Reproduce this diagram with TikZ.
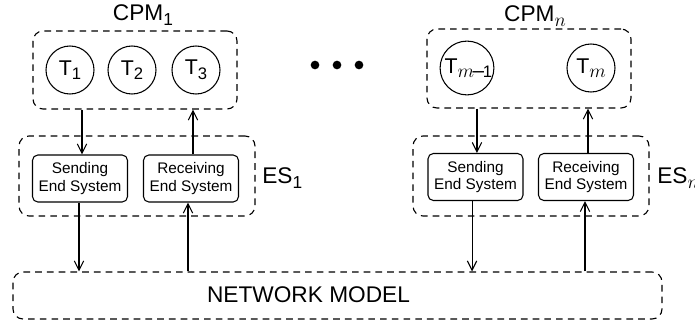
\documentclass[tikz,border=0pt]{standalone}
\usepackage{fontspec}
\setmainfont{Liberation Sans}
\usetikzlibrary{arrows.meta,calc}
\newcommand{\bigsub}[1]{\raisebox{-4pt}{\fontsize{13}{13}\selectfont #1}}
\newcommand{\tsub}[1]{\raisebox{-3.5pt}{\fontsize{12.5}{12.5}\selectfont #1}}
\newcommand{\msub}[1]{\raisebox{-3.5pt}{\fontsize{15.5}{15.5}\selectfont #1}}
\begin{document}
\begin{tikzpicture}[x=0.75pt,y=-0.75pt,
  dashbox/.style={draw,line width=0.85pt,dash pattern=on 5pt off 3.8pt,rounded corners=7.5pt,minimum height=35.25pt,inner sep=0pt},
  esbox/.style={draw,line width=0.8pt,rounded corners=4pt,minimum width=71.25pt,minimum height=35.25pt,inner sep=0pt,align=center,font=\fontsize{11.5}{13}\selectfont},
  task/.style={draw,circle,line width=0.8pt,inner sep=0pt,minimum size=36pt,font=\fontsize{16}{18}\selectfont},
  biglabel/.style={font=\fontsize{17}{20}\selectfont,inner sep=0pt},
  arr/.style={line width=0.8pt,-{Straight Barb[length=7pt,width=7pt]}},
  dot/.style={fill,circle,inner sep=0pt,minimum size=6.5pt}]
\useasboundingbox (0,0) rectangle (695,321);
% CPM boxes
\node[dashbox,minimum width=153pt,minimum height=58.5pt] (cpm1) at (135,70) {};
\node[dashbox,minimum width=153pt,minimum height=59.25pt] (cpmn) at (529,68.5) {};
\node[biglabel] (cpm1l) at (143,15) {CPM\bigsub{1}};
\node[biglabel] (cpmnl) at (535,16) {CPM\msub{$n$}};
% tasks
\node[task] (t1) at (70,70) {T\tsub{1}};
\node[task] (t2) at (132,70) {T\tsub{2}};
\node[task] (t3) at (196,70) {T\tsub{3}};
\node[task,minimum size=39.75pt] (tm1) at (467,68) {\hspace{2pt}T\msub{$m$\kern-1pt--\kern-1pt\fontsize{12.5}{12.5}\selectfont 1}};
\node[task] (tm) at (591,68) {T\msub{$m$}};
% dots
\node[dot] (d1) at (315,65) {};
\node[dot] (d2) at (337,65) {};
\node[dot] (d3) at (359,65) {};
% ES boxes
\node[dashbox,minimum width=177pt,minimum height=60pt] (es1) at (137,176) {};
\node[dashbox,minimum width=177pt,minimum height=60pt] (esn) at (531,176) {};
\node[biglabel,anchor=west] (es1l) at (262,178) {ES\bigsub{1}};
\node[biglabel,anchor=west] (esnl) at (657,178) {ES\msub{$n$}};
\node[esbox] (s1) at (80,178.5) {Sending\\End System};
\node[esbox] (r1) at (191,178.5) {Receiving\\End System};
\node[esbox] (sn) at (475.5,177) {Sending\\End System};
\node[esbox] (rn) at (586,177) {Receiving\\End System};
% network
\node[dashbox,minimum width=486.75pt] (net) at (337.5,295.5) {};
\node[biglabel] (netl) at (308.5,295) {NETWORK MODEL};
% arrows
\draw[arr] ([xshift=1.5pt]s1.north |- cpm1.south) -- ([xshift=1.5pt]s1.north);
\draw[arr] ([xshift=1.5pt]r1.north) -- ([xshift=1.5pt]r1.north |- cpm1.south);
\draw[arr] ([xshift=-0.75pt]s1.south) -- ([xshift=-0.75pt]s1.south |- net.north);
\draw[arr] ([xshift=-2.25pt]r1.south |- net.north) -- ([xshift=-2.25pt]r1.south);
\draw[arr] ([xshift=1.1pt]sn.north |- cpmn.south) -- ([xshift=1.1pt]sn.north);
\draw[arr] ([xshift=1.5pt]rn.north) -- ([xshift=1.5pt]rn.north |- cpmn.south);
\draw[arr] ([xshift=-2.6pt]sn.south) -- ([xshift=-2.6pt]sn.south |- net.north);
\draw[arr] ([xshift=-0.75pt]rn.south |- net.north) -- ([xshift=-0.75pt]rn.south);
\end{tikzpicture}
\end{document}
